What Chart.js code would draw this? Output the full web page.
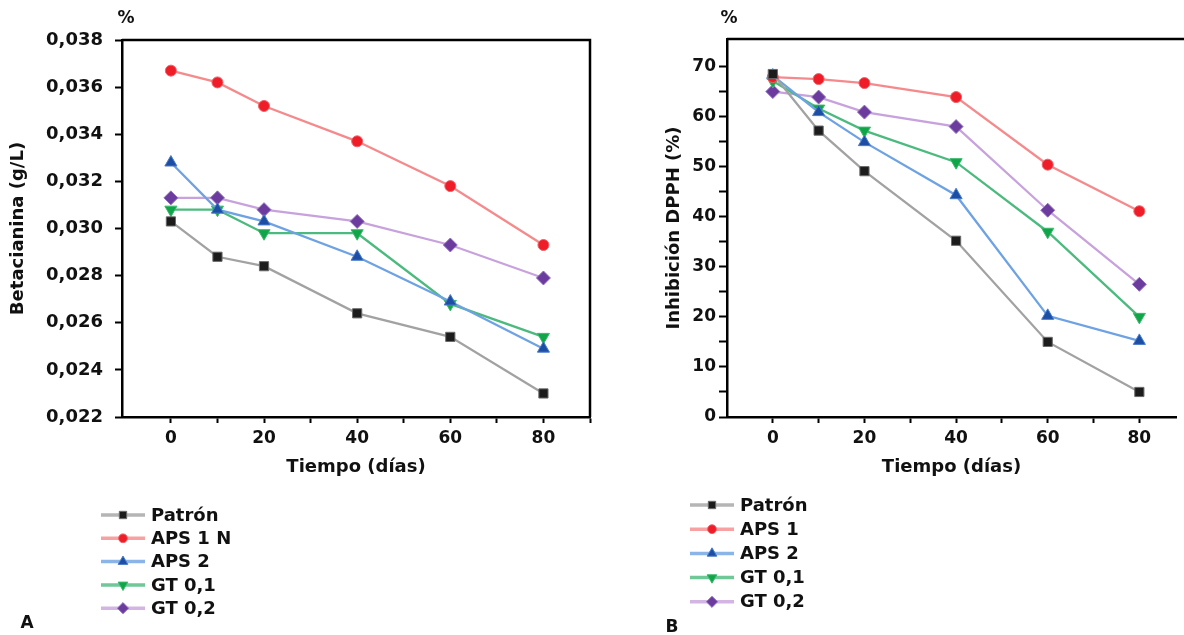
<!DOCTYPE html>
<html>
<head>
<meta charset="utf-8">
<script src="https://cdn.jsdelivr.net/npm/chart.js@4.4.0/dist/chart.umd.min.js"></script>
<style>
  body { margin: 0; background: #fff; }
  #wrap { position: relative; width: 1184px; height: 635px; overflow: hidden; }
  canvas { position: absolute; top: 0; }
  #chartA { left: 0; }
  #chartB { left: 620px; }
</style>
</head>
<body>
<div id="wrap">
  <canvas id="chartA" width="620" height="635"></canvas>
  <canvas id="chartB" width="564" height="635"></canvas>
</div>
<script>
// DATA
const dias = [0, 10, 20, 40, 60, 80];
const xTicks = [0, 10, 20, 30, 40, 50, 60, 70, 80, 90];
const yTicksA = [0.022, 0.024, 0.026, 0.028, 0.030, 0.032, 0.034, 0.036, 0.038];
const yTicksB = [0, 5, 10, 15, 20, 25, 30, 35, 40, 45, 50, 55, 60, 65, 70];

const namesA = ["Patrón", "APS 1 N", "APS 2", "GT 0,1", "GT 0,2"];
const namesB = ["Patrón", "APS 1", "APS 2", "GT 0,1", "GT 0,2"];

// Betacianina (g/L)
const betaPatron = [0.0303, 0.0288, 0.0284, 0.0264, 0.0254, 0.0230];
const betaAps1   = [0.0367, 0.0362, 0.0352, 0.0337, 0.0318, 0.0293];
const betaAps2   = [0.0328, 0.0308, 0.0303, 0.0288, 0.0269, 0.0249];
const betaGt01   = [0.0308, 0.0308, 0.0298, 0.0298, 0.0268, 0.0254];
const betaGt02   = [0.0313, 0.0313, 0.0308, 0.0303, 0.0293, 0.0279];

// Inhibicion DPPH (%)
const dpphPatron = [68.5, 57.2, 49.1, 35.2, 15.0, 5.0];
const dpphAps1   = [67.9, 67.5, 66.7, 63.9, 50.4, 41.1];
const dpphAps2   = [68.2, 60.9, 54.9, 44.3, 20.2, 15.2];
const dpphGt01   = [67.1, 61.6, 57.2, 50.9, 37.0, 20.0];
const dpphGt02   = [65.0, 63.9, 60.9, 58.0, 41.3, 26.5];

// STYLES
const FONT = '"DejaVu Sans", Verdana, sans-serif';
const styles = [
  { line: "#a2a2a2", mark: "#1c1c1c", edge: "#6a6a6a", shape: "rect", r: 6.5, rot: 0 },
  { line: "#f58a8c", mark: "#ee1d27", edge: "#f06068", shape: "circle", r: 5.5, rot: 0 },
  { line: "#6ea2e2", mark: "#1c4ea6", edge: "#4a7cc8", shape: "triangle", r: 7, rot: 0 },
  { line: "#4cba7f", mark: "#10a548", edge: "#3cb86c", shape: "triangle", r: 7, rot: 180 },
  { line: "#c7a2dc", mark: "#6b3c9e", edge: "#9470bd", shape: "rectRot", r: 7, rot: 0 },
];

function makeDatasets(names, lists) {
  return lists.map((vals, i) => {
    const s = styles[i];
    return {
      label: names[i],
      data: vals.map((v, j) => ({ x: dias[j], y: v })),
      borderColor: s.line,
      borderWidth: 2.3,
      pointStyle: s.shape,
      pointRotation: s.rot,
      pointRadius: s.r,
      pointBackgroundColor: s.mark,
      pointBorderColor: s.edge,
      pointBorderWidth: 1,
      tension: 0,
    };
  });
}

// frame, "%" label, panel letter and legend
function decoPlugin(o) {
  return {
    id: "deco",
    afterDraw(chart) {
      const ctx = chart.ctx;
      const a = chart.chartArea;
      ctx.save();
      ctx.strokeStyle = "#000";
      ctx.lineWidth = 2.5;
      ctx.beginPath();
      ctx.moveTo(a.left, a.top);
      ctx.lineTo(o.frameRight ? a.right : chart.width, a.top);
      if (o.frameRight) ctx.lineTo(a.right, a.bottom);
      ctx.stroke();

      ctx.fillStyle = "#111";
      ctx.font = "bold 17px " + FONT;
      ctx.textAlign = "center";
      ctx.textBaseline = "middle";
      ctx.fillText("%", o.pctX, 19);
      ctx.fillText(o.letter, o.letterX, o.letterY);

      // legend
      chart.data.datasets.forEach((ds, i) => {
        const y = o.legY + i * o.legStep;
        ctx.globalAlpha = 0.8;
        ctx.strokeStyle = ds.borderColor;
        ctx.lineWidth = 3.5;
        ctx.beginPath();
        ctx.moveTo(o.legX - 22, y);
        ctx.lineTo(o.legX + 22, y);
        ctx.stroke();
        ctx.globalAlpha = 1;
        ctx.fillStyle = ds.pointBackgroundColor;
        ctx.strokeStyle = ds.pointBorderColor;
        ctx.lineWidth = 1;
        Chart.helpers.drawPoint(ctx, {
          pointStyle: ds.pointStyle,
          radius: ds.pointRadius * 0.8,
          rotation: ds.pointRotation,
          borderWidth: 1,
        }, o.legX, y);
        ctx.fillStyle = "#111";
        ctx.font = "bold 18px " + FONT;
        ctx.textAlign = "left";
        ctx.fillText(ds.label, o.legX + 28, y + 1);
      });
      ctx.restore();
    },
  };
}

function makeChart(id, cfg) {
  return new Chart(document.getElementById(id), {
    type: "line",
    data: { datasets: makeDatasets(cfg.names, cfg.lists) },
    options: {
      responsive: false,
      animation: false,
      layout: { padding: { left: 0, top: cfg.top, right: cfg.right, bottom: 148 } },
      plugins: { legend: { display: false }, tooltip: { enabled: false } },
      scales: {
        x: {
          type: "linear",
          min: cfg.xMin,
          max: cfg.xMax,
          afterBuildTicks: (s) => {
            s.ticks = xTicks.filter(v => v <= cfg.xMax).map(v => ({ value: v }));
          },
          afterFit: (s) => { s.height = 70; },
          border: { display: true, color: "#000", width: 2.5 },
          grid: { drawOnChartArea: false, drawTicks: true, tickLength: 6, tickWidth: 2, tickColor: "#000" },
          ticks: {
            color: "#111",
            padding: 5,
            maxRotation: 0,
            autoSkip: false,
            font: { family: FONT, size: 17, weight: "bold" },
            callback: (v) => (v % 20 === 0 ? String(v) : ""),
          },
          title: {
            display: true,
            text: "Tiempo (días)",
            color: "#111",
            font: { family: FONT, size: 18, weight: "bold" },
            padding: { top: 0, bottom: 9 },
          },
        },
        y: {
          min: cfg.yMin,
          max: cfg.yMax,
          afterBuildTicks: (s) => { s.ticks = cfg.yTicks.map(v => ({ value: v })); },
          afterFit: (s) => { s.width = cfg.yWidth; },
          border: { display: true, color: "#000", width: 2.5 },
          grid: { drawOnChartArea: false, drawTicks: true, tickLength: cfg.yTickLen, tickWidth: 2, tickColor: "#000" },
          ticks: {
            color: "#111",
            padding: cfg.yPad,
            autoSkip: false,
            font: { family: FONT, size: cfg.yFont, weight: "bold" },
            callback: cfg.yLabel,
          },
          title: {
            display: true,
            text: cfg.yTitle,
            color: "#111",
            font: { family: FONT, size: 18, weight: "bold" },
            padding: { top: cfg.yTitlePad, bottom: 0 },
          },
        },
      },
    },
    plugins: [decoPlugin(cfg.deco)],
  });
}

makeChart("chartA", {
  names: namesA,
  lists: [betaPatron, betaAps1, betaAps2, betaGt01, betaGt02],
  top: 40, right: 30,
  xMin: -10.5, xMax: 90,
  yMin: 0.022, yMax: 0.038, yTicks: yTicksA,
  yWidth: 122, yTickLen: 7, yPad: 12, yFont: 18,
  yLabel: (v) => v.toFixed(3).replace(".", ","),
  yTitle: "Betacianina (g/L)", yTitlePad: 8,
  deco: { frameRight: true, pctX: 126, letter: "A", letterX: 27, letterY: 624,
          legX: 123, legY: 515, legStep: 23.3 },
});

makeChart("chartB", {
  names: namesB,
  lists: [dpphPatron, dpphAps1, dpphAps2, dpphGt01, dpphGt02],
  top: 39, right: 0,
  xMin: -10, xMax: 88,
  yMin: 0, yMax: 75.5, yTicks: yTicksB,
  yWidth: 107, yTickLen: 8, yPad: 3, yFont: 17,
  yLabel: (v) => (v % 10 === 0 ? String(v) : ""),
  yTitle: "Inhibición DPPH (%)", yTitlePad: 44,
  deco: { frameRight: false, pctX: 109, letter: "B", letterX: 52, letterY: 628,
          legX: 92, legY: 505, legStep: 24.2 },
});
</script>
</body>
</html>
